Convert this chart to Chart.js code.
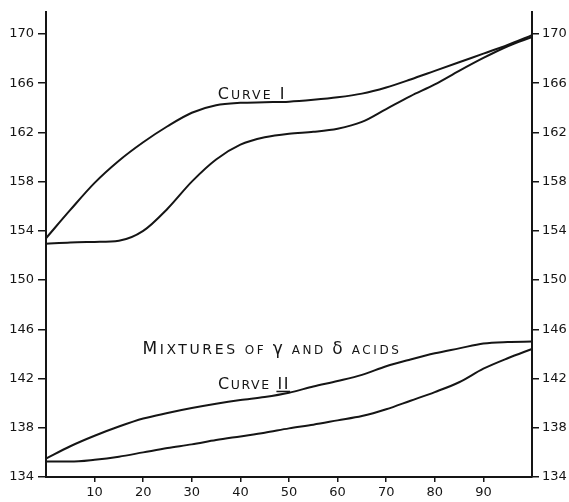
<!DOCTYPE html>
<html>
<head>
<meta charset="utf-8">
<script src="https://cdn.jsdelivr.net/npm/chart.js@4.4.1/dist/chart.umd.min.js"></script>
<style>
  html, body { margin: 0; padding: 0; background: #fff; }
</style>
</head>
<body>
<canvas id="myChart" width="569" height="502"></canvas>
<script>
// composition (x) and melting points
var composition = [0, 5, 10, 15, 20, 25, 30, 35, 40, 45, 50, 55, 60, 65, 70, 75, 80, 85, 90, 95, 100];

var curveIUpper = [153.4, 155.7, 157.9, 159.7, 161.2, 162.5, 163.6, 164.2, 164.4, 164.45, 164.5,
                   164.65, 164.85, 165.15, 165.65, 166.3, 167.0, 167.7, 168.4, 169.1, 169.9];
var curveILower = [152.95, 153.05, 153.1, 153.2, 154.0, 155.8, 158.0, 159.8, 161.0, 161.6, 161.9,
                   162.05, 162.3, 162.85, 163.9, 164.95, 165.9, 167.0, 168.05, 169.0, 169.75];
var curveIIUpper = [135.5, 136.5, 137.35, 138.1, 138.75, 139.2, 139.6, 139.95, 140.25, 140.5, 140.85,
                    141.35, 141.8, 142.3, 143.0, 143.55, 144.05, 144.45, 144.85, 144.97, 145.0];
var curveIILower = [135.25, 135.25, 135.4, 135.65, 136.0, 136.35, 136.65, 137.0, 137.3, 137.6, 137.95,
                    138.25, 138.6, 138.95, 139.5, 140.2, 140.9, 141.7, 142.8, 143.65, 144.4];

var xTicks = [10, 20, 30, 40, 50, 60, 70, 80, 90];
var yTicks = [134, 138, 142, 146, 150, 154, 158, 162, 166, 170];

// hand lettering: each note is a run of [text, font size]
var notes = [
  {x: 42.4, y: 165.2, spacing: 2, parts: [['C', 16], ['URVE', 12.5], [' I', 16]]},
  {x: 46.5, y: 144.5, spacing: 2.6, parts: [['M', 17], ['IXTURES ', 14], ['OF ', 12], ['\u03b3', 17], [' AND ', 12], ['\u03b4', 17], [' ACIDS', 12]]},
  {x: 42.8, y: 141.6, spacing: 1.6, parts: [['C', 16], ['URVE', 12.5], [' II', 16]], underlineLast: true}
];

var ink = '#151515';

function points(arr) {
  return composition.map(function(x, i) { return {x: x, y: arr[i]}; });
}

function lineSet(arr) {
  return {
    data: points(arr),
    borderColor: ink,
    borderWidth: 2,
    pointRadius: 0,
    fill: false,
    cubicInterpolationMode: 'monotone',
    clip: false
  };
}

var noteLabels = {
  id: 'noteLabels',
  afterDatasetsDraw: function(chart) {
    var ctx = chart.ctx;
    ctx.save();
    ctx.fillStyle = ink;
    ctx.strokeStyle = ink;
    ctx.textAlign = 'left';
    ctx.textBaseline = 'alphabetic';
    notes.forEach(function(n) {
      ctx.letterSpacing = n.spacing + 'px';
      var total = 0;
      n.parts.forEach(function(p) {
        ctx.font = p[1] + 'px "DejaVu Sans"';
        total += ctx.measureText(p[0]).width;
      });
      var px = chart.scales.x.getPixelForValue(n.x) - total / 2;
      var base = chart.scales.y.getPixelForValue(n.y) + 6;
      n.parts.forEach(function(p, i) {
        ctx.font = p[1] + 'px "DejaVu Sans"';
        var w = ctx.measureText(p[0]).width;
        ctx.fillText(p[0], px, base);
        if (n.underlineLast && i === n.parts.length - 1) {
          var sw = ctx.measureText(' ').width;
          ctx.lineWidth = 1.5;
          ctx.beginPath();
          ctx.moveTo(px + sw - 1, base + 2);
          ctx.lineTo(px + w, base + 2);
          ctx.stroke();
        }
        px += w;
      });
    });
    ctx.restore();
  }
};

function axisTicks(list) {
  return function(scale) {
    scale.ticks = list.map(function(v) { return {value: v}; });
  };
}

var tickFont = {family: '"DejaVu Sans"', size: 13};

var ctx = document.getElementById('myChart').getContext('2d');

var myChart = new Chart(ctx, {
  type: 'line',
  data: {
    datasets: [lineSet(curveIUpper), lineSet(curveILower), lineSet(curveIIUpper), lineSet(curveIILower)]
  },
  options: {
    responsive: false,
    animation: false,
    layout: {padding: {top: 11, left: 0, right: 0, bottom: 0}},
    plugins: {legend: {display: false}, tooltip: {enabled: false}},
    scales: {
      x: {
        type: 'linear',
        min: 0,
        max: 100,
        afterBuildTicks: axisTicks(xTicks),
        afterFit: function(scale) { scale.height = 25; },
        grid: {drawOnChartArea: false, tickLength: 5, color: ink, lineWidth: 1.5},
        border: {display: true, color: ink, width: 2},
        ticks: {color: ink, font: tickFont, padding: 3, maxRotation: 0, autoSkip: false}
      },
      y: {
        type: 'linear',
        position: 'left',
        min: 134,
        max: 171.8,
        afterBuildTicks: axisTicks(yTicks),
        afterFit: function(scale) { scale.width = 46; },
        grid: {drawOnChartArea: false, tickLength: 8, color: ink, lineWidth: 1.5},
        border: {display: true, color: ink, width: 2},
        ticks: {color: ink, font: tickFont, padding: 4}
      },
      y2: {
        type: 'linear',
        position: 'right',
        min: 134,
        max: 171.8,
        afterBuildTicks: axisTicks(yTicks),
        afterFit: function(scale) { scale.width = 37; },
        grid: {drawOnChartArea: false, tickLength: 7, color: ink, lineWidth: 1.5},
        border: {display: true, color: ink, width: 2},
        ticks: {color: ink, font: tickFont, padding: 3}
      }
    }
  },
  plugins: [noteLabels]
});
</script>
</body>
</html>
